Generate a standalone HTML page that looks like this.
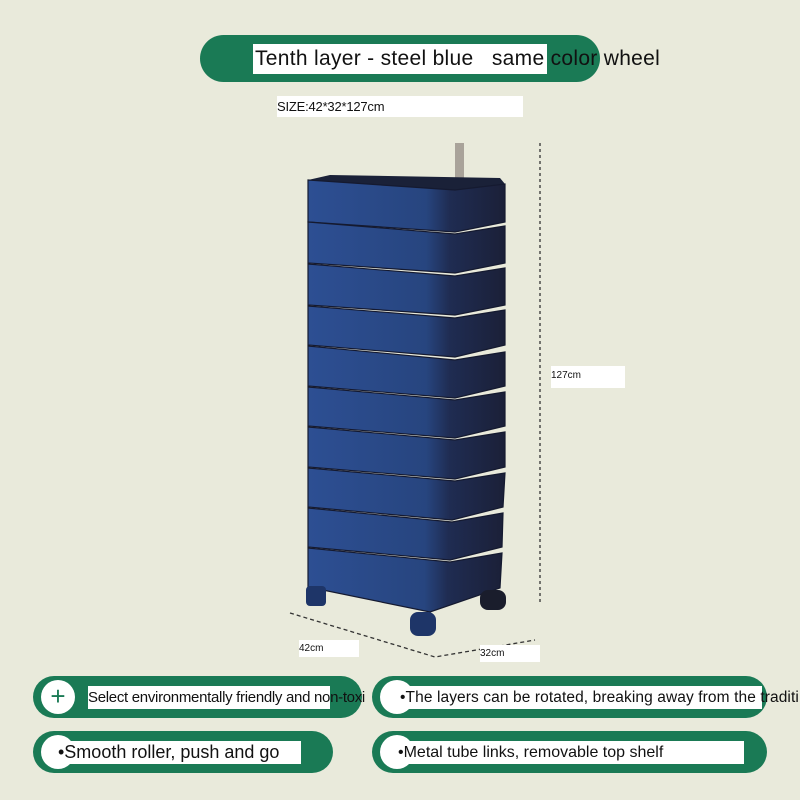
<!DOCTYPE html>
<html><head><style>
body{margin:0;width:800px;height:800px;background:#e9eadb;position:relative;overflow:hidden;font-family:"Liberation Sans",sans-serif}
.a{position:absolute}
.pill{position:absolute;background:#1a7a55;border-radius:24px}
.wb{position:absolute;background:#fff;white-space:nowrap;color:#111;overflow:visible}
.c{position:absolute;width:34px;height:34px;border-radius:50%;background:#fff;color:#1a7a55;font-size:26px;text-align:center;line-height:32px}
</style></head><body>
<div class="pill" style="left:200px;top:35px;width:400px;height:47px"></div>
<div class="wb" style="left:253px;top:44px;width:294px;height:30px"></div>
<div class="a" style="left:255px;top:47px;font-size:21px;color:#111;white-space:nowrap;letter-spacing:0.3px">Tenth layer - steel blue &nbsp; same color wheel</div>
<div class="wb" style="left:277px;top:96px;width:246px;height:21px;font-size:13px;line-height:21px;letter-spacing:-0.2px">SIZE:42*32*127cm</div>

<svg class="a" style="left:0;top:0" width="800" height="800">
<defs>
<linearGradient id="g" x1="0" x2="1"><stop offset="0" stop-color="#2d4f93"/><stop offset="0.6" stop-color="#27457f"/><stop offset="0.72" stop-color="#1f2c52"/><stop offset="1" stop-color="#1b2038"/></linearGradient>
</defs>
<line x1="540" y1="143" x2="540" y2="605" stroke="#333" stroke-width="1.3" stroke-dasharray="3,3"/>
<polyline points="290,613 435,657 535,640" fill="none" stroke="#333" stroke-width="1.3" stroke-dasharray="4,3"/>
<rect x="455" y="143" width="9" height="45" fill="#a9a39a"/>
<polygon points="308,180 330,175 500,178 505,184 455,190" fill="#1a2138"/>
<g fill="url(#g)" stroke="#151a30" stroke-width="1.2">
<path d="M308,180 L455,190 L505,184 L505,222 L455,232 L308,222 Z"/>
<path d="M308,222 L455,234 L505,226 L505,263 L455,273 L308,263 Z"/>
<path d="M308,264 L455,276 L505,268 L505,305 L455,315 L308,305 Z"/>
<path d="M308,306 L455,318 L505,310 L505,345 L455,357 L308,345 Z"/>
<path d="M308,346 L455,360 L505,352 L505,386 L455,398 L308,386 Z"/>
<path d="M308,387 L455,400 L505,392 L505,426 L455,438 L308,426 Z"/>
<path d="M308,427 L455,440 L505,432 L505,467 L455,479 L308,467 Z"/>
<path d="M308,468 L455,481 L505,473 L503,507 L452,520 L308,507 Z"/>
<path d="M308,508 L452,522 L503,513 L502,547 L450,560 L308,547 Z"/>
<path d="M308,548 L450,562 L502,553 L500,588 L430,612 L308,587 Z"/>
</g>
<rect x="306" y="586" width="20" height="20" rx="4" fill="#1e3568"/>
<rect x="410" y="612" width="26" height="24" rx="8" fill="#1e3568"/>
<rect x="480" y="590" width="26" height="20" rx="8" fill="#1a1d2c"/>
</svg>

<div class="wb" style="left:551px;top:366px;width:74px;height:22px;font-size:10px;line-height:20px">127cm</div>
<div class="wb" style="left:299px;top:640px;width:60px;height:17px;font-size:10px;line-height:17px">42cm</div>
<div class="wb" style="left:480px;top:645px;width:60px;height:17px;font-size:10px;line-height:17px">32cm</div>

<div class="pill" style="left:33px;top:676px;width:329px;height:42px;border-radius:21px"></div>
<div class="c" style="left:41px;top:680px">+</div>
<div class="wb" style="left:88px;top:686px;width:242px;height:23px;font-size:15px;line-height:23px;letter-spacing:-0.3px">Select environmentally friendly and non-toxi</div>
<div class="pill" style="left:372px;top:676px;width:395px;height:42px;border-radius:21px"></div>
<div class="c" style="left:380px;top:680px"></div>
<div class="wb" style="left:400px;top:686px;width:362px;height:23px;font-size:15.5px;line-height:23px;letter-spacing:0.1px">•The layers can be rotated, breaking away from the traditi</div>

<div class="pill" style="left:33px;top:731px;width:300px;height:42px;border-radius:21px"></div>
<div class="c" style="left:41px;top:735px"></div>
<div class="wb" style="left:58px;top:741px;width:243px;height:23px;font-size:18px;line-height:23px">•Smooth roller, push and go</div>
<div class="pill" style="left:372px;top:731px;width:395px;height:42px;border-radius:21px"></div>
<div class="c" style="left:380px;top:735px"></div>
<div class="wb" style="left:398px;top:741px;width:346px;height:23px;font-size:16px;line-height:23px">•Metal tube links, removable top shelf</div>
</body></html>
